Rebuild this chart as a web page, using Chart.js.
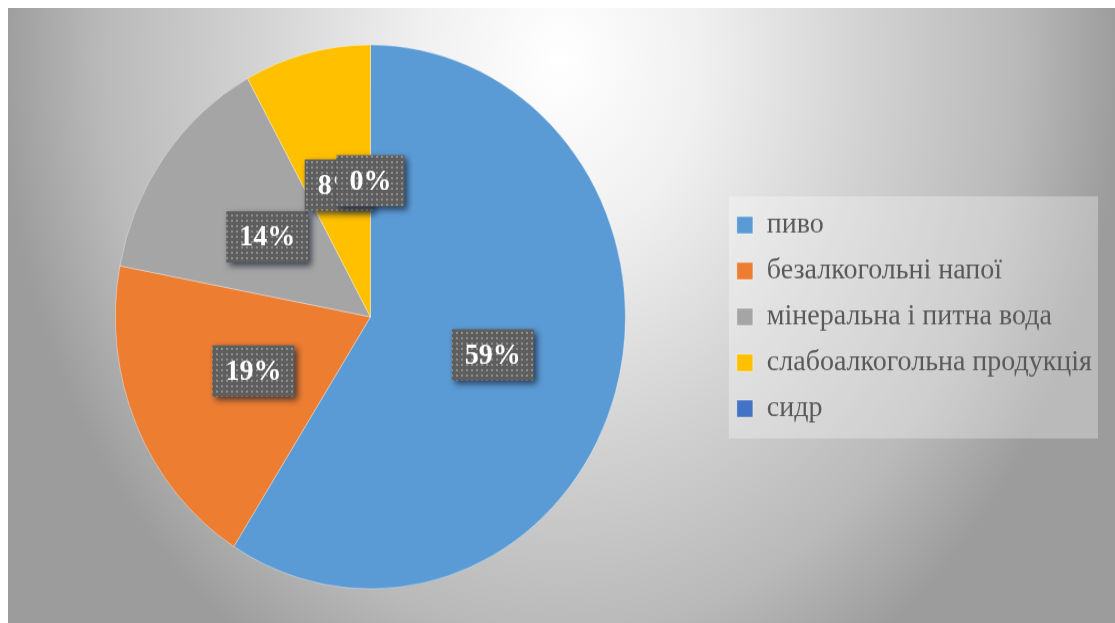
<!DOCTYPE html>
<html>
<head>
<meta charset="utf-8">
<script src="https://cdn.jsdelivr.net/npm/chart.js@4/dist/chart.umd.min.js"></script>
<style>
  html, body { margin: 0; padding: 0; background: #ffffff; }
  #frame {
    position: absolute; left: 8px; top: 8px; width: 1107px; height: 615px;
    background: radial-gradient(ellipse 560px 700px at 552px 52px, #ffffff 0%, #f0f0f0 25%, #d2d2d2 55%, #b9b9b9 82%, #9c9c9c 100%);
  }
  #chart { position: absolute; left: 0; top: 0; width: 1115px; height: 623px; }
</style>
</head>
<body>
<div id="frame"></div>
<!-- drawn at 584px high and stretched to 623px, like the squeezed original -->
<canvas id="chart" width="1115" height="584" style="width:1115px;height:623px"></canvas>
<script>
(function(){
    'use strict';

    var categories = ['пиво', 'безалкогольні напої', 'мінеральна і питна вода', 'слабоалкогольна продукція', 'сидр'];
    var shares = [59, 19, 14, 8, 0];
    var sliceColors = ['#5b9bd5', '#ed7d31', '#a5a5a5', '#ffc000', '#4472c4'];

    var serif = '"Liberation Serif", "Times New Roman", serif';
    Chart.defaults.font.family = serif;

    // dotted dark fill used behind the percent labels
    function dotPattern(ctx){
        var c = document.createElement('canvas');
        c.width = 5; c.height = 5;
        var p = c.getContext('2d');
        p.fillStyle = '#5e5e5e';
        p.fillRect(0, 0, 5, 5);
        p.fillStyle = '#8f8f8f';
        p.fillRect(1, 1, 2, 2);
        return ctx.createPattern(c, 'repeat');
    }

    var legendBack = {
        id: 'legendBack',
        beforeDraw: function(chart){
            var lg = chart.legend;
            if (!lg || !lg.legendHitBoxes.length) return;
            var boxes = lg.legendHitBoxes;
            var last = boxes[boxes.length - 1];
            var top = boxes[0].top - 13;
            var bottom = last.top + last.height + 14;
            var ctx = chart.ctx;
            ctx.save();
            ctx.fillStyle = 'rgba(255,255,255,0.3)';
            ctx.fillRect(lg.left + 7, top, lg.right - 4 - (lg.left + 7), bottom - top);
            ctx.restore();
        }
    };

    var sliceLabels = {
        id: 'sliceLabels',
        afterDatasetsDraw: function(chart){
            var ctx = chart.ctx;
            var meta = chart.getDatasetMeta(0);
            var fill = dotPattern(ctx);
            ctx.save();
            ctx.font = 'bold 28px ' + serif;
            ctx.textAlign = 'center';
            ctx.textBaseline = 'middle';
            meta.data.forEach(function(arc, i){
                var pos = arc.tooltipPosition();
                var txt = shares[i] + '%';
                var w = ctx.measureText(txt).width + 26;
                var h = 48;
                ctx.save();
                ctx.shadowColor = 'rgba(20,30,50,0.75)';
                ctx.shadowBlur = 6;
                ctx.shadowOffsetX = 3;
                ctx.shadowOffsetY = 3;
                ctx.fillStyle = fill;
                ctx.fillRect(pos.x - w / 2, pos.y - h / 2, w, h);
                ctx.restore();
                ctx.fillStyle = '#ffffff';
                ctx.fillText(txt, pos.x, pos.y + 1);
            });
            ctx.restore();
        }
    };

    new Chart(document.getElementById('chart'), {
        type: 'pie',
        data: {
            labels: categories,
            datasets: [{
                data: shares,
                backgroundColor: sliceColors,
                borderColor: 'rgba(255,255,255,0.35)',
                borderWidth: 1,
                radius: 255
            }]
        },
        options: {
            responsive: false,
            animation: false,
            layout: { padding: { left: 19, right: 13, top: 30, bottom: 20 } },
            plugins: {
                legend: {
                    position: 'right',
                    labels: {
                        color: '#595959',
                        font: { family: serif, size: 28 },
                        boxWidth: 16,
                        boxHeight: 16,
                        padding: 15
                    }
                },
                tooltip: { enabled: false }
            }
        },
        plugins: [legendBack, sliceLabels]
    });
})();
</script>
</body>
</html>
